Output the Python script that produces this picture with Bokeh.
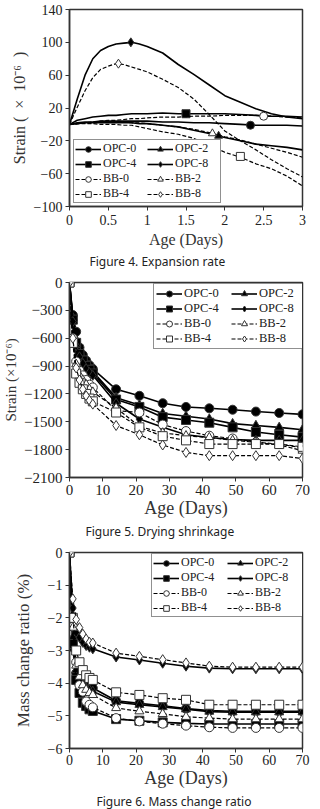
from bokeh.plotting import figure
from bokeh.layouts import column
from bokeh.models import Legend, LegendItem, Title, FixedTicker
from bokeh.embed import file_html
from bokeh.resources import INLINE

SERIES = ["OPC-0", "OPC-2", "OPC-4", "OPC-8", "BB-0", "BB-2", "BB-4", "BB-8"]

# ---- Figure 4: expansion in the first three days (x10^-6) ----
exp_age = [0, 0.1, 0.2, 0.3, 0.4, 0.5, 0.6, 0.7, 0.8, 0.9, 1.0,
           1.2, 1.4, 1.6, 1.8, 2.0, 2.2, 2.4, 2.6, 2.8, 3.0]
exp_opc0 = [0, 2, 3, 3, 4, 4, 4, 4, 4, 4, 4, 3, 3, 2, 2, 1, 0, -1, -1, -1, -2]
exp_opc2 = [0, 1, 2, 2, 2, 2, 2, 2, 2, 1, 1, -1, -3, -7, -11, -16, -20, -24, -26, -28, -31]
exp_opc4 = [0, 5, 7, 9, 10, 11, 11, 12, 13, 13, 13, 14, 13, 13, 13, 13, 12, 11, 10, 10, 9]
exp_opc8 = [0, 31, 60, 80, 90, 95, 98, 99, 100, 98, 95, 87, 73, 61, 48, 35, 27, 19, 13, 9, 7]
exp_bb0 = [0, 1, 2, 3, 4, 5, 5, 6, 7, 7, 8, 9, 9, 10, 10, 11, 11, 11, 10, 9, 8]
exp_bb2 = [0, 1, 2, 2, 3, 3, 3, 3, 2, 2, 1, -1, -3, -6, -10, -15, -19, -24, -29, -34, -40]
exp_bb4 = [0, 1, 1, 1, 0, 0, 0, -1, -1, -3, -5, -9, -12, -17, -25, -34, -40, -48, -54, -63, -75]
exp_bb8 = [0, 21, 41, 57, 67, 71, 74, 73, 70, 67, 64, 55, 45, 31, 12, -8, -20, -31, -43, -54, -64]
# one marked reading per curve
exp_mark_age = [2.33, 1.92, 1.5, 0.79, 2.5, 1.84, 2.2, 0.63]
exp_mark_strain = [-1, -14, 13, 100, 10, -11, -39, 74]

# ---- Figure 5: drying shrinkage (x10^-6) ----
shr_age = [0, 1, 2, 3, 4, 5, 6, 7, 14, 21, 28, 35, 42, 49, 56, 63, 70]
shr_opc0 = [0, -350, -530, -700, -780, -840, -890, -930, -1150, -1220, -1300, -1340, -1355, -1370, -1390, -1405, -1420]
shr_opc2 = [0, -380, -620, -750, -820, -880, -920, -960, -1240, -1320, -1410, -1440, -1470, -1520, -1540, -1560, -1585]
shr_opc4 = [0, -400, -650, -770, -840, -900, -940, -980, -1260, -1340, -1450, -1480, -1510, -1560, -1610, -1640, -1665]
shr_opc8 = [0, -420, -680, -800, -870, -930, -970, -1000, -1300, -1470, -1560, -1640, -1670, -1690, -1700, -1700, -1700]
shr_bb0 = [0, -600, -850, -950, -1000, -1050, -1100, -1130, -1380, -1400, -1530, -1600, -1650, -1680, -1720, -1740, -1780]
shr_bb2 = [0, -620, -880, -1000, -1050, -1100, -1150, -1180, -1350, -1550, -1620, -1650, -1670, -1700, -1720, -1750, -1810]
shr_bb4 = [0, -650, -980, -1080, -1150, -1200, -1250, -1280, -1400, -1560, -1655, -1700, -1740, -1740, -1740, -1740, -1770]
shr_bb8 = [0, -600, -920, -1050, -1150, -1220, -1270, -1310, -1540, -1640, -1750, -1830, -1865, -1865, -1865, -1865, -1895]

# ---- Figure 6: mass change ratio (%) ----
mass_age = [0, 1, 2, 3, 4, 5, 6, 7, 14, 21, 28, 35, 42, 49, 56, 63, 70]
mass_opc0 = [0, -2.9, -3.7, -3.9, -4.0, -4.05, -4.1, -4.15, -4.54, -4.62, -4.69, -4.78, -4.84, -4.86, -4.86, -4.86, -4.86]
mass_opc2 = [0, -2.6, -3.6, -4.0, -4.1, -4.15, -4.2, -4.25, -4.58, -4.66, -4.73, -4.8, -4.87, -4.89, -4.89, -4.89, -4.89]
mass_opc4 = [0, -2.8, -3.9, -4.3, -4.6, -4.7, -4.8, -4.85, -5.1, -5.15, -5.2, -5.23, -5.25, -5.25, -5.25, -5.25, -5.25]
mass_opc8 = [0, -1.7, -2.45, -2.6, -2.75, -2.85, -2.9, -2.95, -3.2, -3.29, -3.39, -3.48, -3.54, -3.56, -3.56, -3.56, -3.56]
mass_bb0 = [0, -2.27, -3.36, -4.06, -4.26, -4.56, -4.66, -4.74, -5.07, -5.17, -5.24, -5.3, -5.35, -5.37, -5.37, -5.37, -5.37]
mass_bb2 = [0, -2.3, -3.46, -3.8, -4.06, -4.2, -4.3, -4.36, -4.76, -4.86, -4.94, -5.03, -5.07, -5.1, -5.1, -5.1, -5.1]
mass_bb4 = [0, -2.0, -3.0, -3.36, -3.6, -3.76, -3.84, -3.9, -4.28, -4.36, -4.46, -4.51, -4.66, -4.66, -4.66, -4.66, -4.66]
mass_bb8 = [0, -1.42, -2.05, -2.3, -2.5, -2.65, -2.75, -2.77, -3.08, -3.18, -3.28, -3.38, -3.48, -3.51, -3.51, -3.51, -3.51]

SERIF = "Liberation Serif"
SANS = "Noto Sans"
INK = "#222222"
MARKER = {"OPC-0": "circle", "OPC-2": "triangle", "OPC-4": "square", "OPC-8": "diamond",
          "BB-0": "circle", "BB-2": "triangle", "BB-4": "square", "BB-8": "diamond"}


def make_fig(height, xr, yr, border, tick_px, xlab_px, ylab_px,
             xtick_gap, xlab_gap, ylab_gap):
    left, right, top, bottom = border
    p = figure(width=320, height=height, x_range=xr, y_range=yr,
               output_backend="svg", toolbar_location=None,
               min_border_left=left, min_border_right=right,
               min_border_top=top, min_border_bottom=bottom)
    p.grid.visible = False
    p.outline_line_color = "#333333"
    p.outline_line_width = 1.5
    for ax in (p.xaxis[0], p.yaxis[0]):
        ax.axis_line_color = "#333333"
        ax.axis_line_width = 1.5
        ax.major_tick_line_color = "#333333"
        ax.major_tick_out = 4
        ax.major_tick_in = 0
        ax.minor_tick_out = 0
        ax.minor_tick_in = 0
        ax.major_label_text_font = SERIF
        ax.major_label_text_font_size = tick_px
        ax.major_label_text_color = INK
        ax.major_label_standoff = 3
        ax.axis_label_text_font = SERIF
        ax.axis_label_text_font_style = "normal"
        ax.axis_label_text_color = "#333333"
    p.xaxis.major_label_standoff = xtick_gap
    p.xaxis.axis_label_text_font_size = xlab_px
    p.xaxis.axis_label_standoff = xlab_gap
    p.yaxis.axis_label_text_font_size = ylab_px
    p.yaxis.axis_label_standoff = ylab_gap
    return p


def add_series(p, name, xs, ys, mx, my, msize):
    dashed = name.startswith("BB")
    lr = p.line(xs, ys, line_color="black",
                line_width=1.2 if dashed else 1.6,
                line_dash="4 2" if dashed else "solid")
    m = MARKER[name]
    size = msize + 1 if m == "diamond" else msize
    mr = p.scatter(mx, my, marker=m, size=size,
                   fill_color="white" if dashed else "black",
                   line_color="#333333", line_width=1)
    return LegendItem(label=name, renderers=[lr, mr])


def add_legend(p, items, loc, font_px, row_px, label_w, pad):
    leg = Legend(items=items, orientation="horizontal", ncols=2, location=loc,
                 border_line_color=INK, border_line_width=1.5,
                 background_fill_color="white", background_fill_alpha=1,
                 label_text_font=SERIF, label_text_font_size=font_px,
                 label_text_color=INK,
                 glyph_width=26, glyph_height=row_px, label_height=row_px,
                 label_standoff=2, label_width=label_w, spacing=0,
                 padding=pad, margin=0)
    p.add_layout(leg)


def add_caption(p, text, offset):
    cap = Title(text=text, align="left", offset=offset, text_font=SANS,
                text_font_size="12px", text_font_style="normal",
                text_color=INK, standoff=0)
    p.add_layout(cap, "below")


# Figure 4
p4 = make_fig(270, (0, 3), (-100, 140), (63, 13, 9, 64), "14px", "16px", "16px",
              xtick_gap=4, xlab_gap=3, ylab_gap=3)
p4.xaxis.ticker = FixedTicker(ticks=[0, 0.5, 1, 1.5, 2, 2.5, 3])
p4.xaxis.major_label_overrides = {0: "0", 0.5: "0.5", 1: "1", 1.5: "1.5", 2: "2", 2.5: "2.5", 3: "3"}
p4.yaxis.ticker = FixedTicker(ticks=[-100, -60, -20, 20, 60, 100, 140])
p4.xaxis.axis_label = "Age (Days)"
p4.yaxis.axis_label = "Strain (\u2002×\u200210⁻⁶\u2002)"
exp_data = [exp_opc0, exp_opc2, exp_opc4, exp_opc8, exp_bb0, exp_bb2, exp_bb4, exp_bb8]
items4 = [add_series(p4, n, exp_age, ys, [mx], [my], 8)
          for n, ys, mx, my in zip(SERIES, exp_data, exp_mark_age, exp_mark_strain)]
add_legend(p4, items4, (4, 3), "12px", 14, 44, 1)
add_caption(p4, "Figure 4. Expansion rate", 20)

# Figure 5
p5 = make_fig(270, (0, 70), (-2100, 0), (68, 9, 12, 63), "15px", "18px", "15px",
              xtick_gap=3, xlab_gap=0, ylab_gap=2)
p5.xaxis.ticker = FixedTicker(ticks=list(range(0, 71, 10)))
p5.yaxis.ticker = FixedTicker(ticks=list(range(-2100, 1, 300)))
p5.xaxis.axis_label = "Age (Days)"
p5.yaxis.axis_label = "Strain (×10⁻⁶)"
shr_data = [shr_opc0, shr_opc2, shr_opc4, shr_opc8, shr_bb0, shr_bb2, shr_bb4, shr_bb8]
items5 = [add_series(p5, n, shr_age, ys, shr_age, ys, 9) for n, ys in zip(SERIES, shr_data)]
add_legend(p5, items5, (84, 128), "12.5px", 15, 47, 2)
add_caption(p5, "Figure 5. Drying shrinkage", 16)

# Figure 6
p6 = make_fig(269, (0, 70), (-6, 0), (58, 18, 12, 58), "14px", "18px", "17px",
              xtick_gap=2, xlab_gap=0, ylab_gap=12)
p6.xaxis.ticker = FixedTicker(ticks=list(range(0, 71, 10)))
p6.yaxis.ticker = FixedTicker(ticks=[-6, -5, -4, -3, -2, -1, 0])
p6.xaxis.axis_label = "Age (Days)"
p6.yaxis.axis_label = "Mass change ratio (%)"
mass_data = [mass_opc0, mass_opc2, mass_opc4, mass_opc8, mass_bb0, mass_bb2, mass_bb4, mass_bb8]
items6 = [add_series(p6, n, mass_age, ys, mass_age, ys, 9) for n, ys in zip(SERIES, mass_data)]
add_legend(p6, items6, (82, 131), "12px", 14, 46, 1)
add_caption(p6, "Figure 6. Mass change ratio", 27)

layout = column(p4, p5, p6, spacing=0)
open("out.html", "w").write(file_html(layout, INLINE))
